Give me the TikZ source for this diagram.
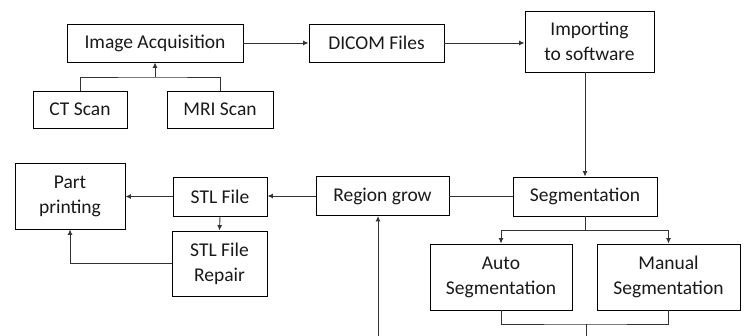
\documentclass[tikz,border=0pt]{standalone}
\usepackage{fontspec}
\setmainfont{Carlito}
\usetikzlibrary{arrows.meta}
\begin{document}
\begin{tikzpicture}[x=1pt,y=-1pt,
  box/.style={draw=black, line width=0.9pt, inner sep=0pt, align=center,
    font=\fontsize{19.5}{25}\selectfont, text=black!90},
  conn/.style={draw=black!80, line width=0.9pt},
  arr/.style={conn, -{Latex[length=5.5pt,width=5pt]}}]
\useasboundingbox (0,0) rectangle (747,336);
\node[box, minimum width=176pt, minimum height=38pt] (acq) at (155,43) {Image Acquisition};
\node[box, minimum width=94pt, minimum height=37pt] (ct) at (80,109.5) {CT Scan};
\node[box, minimum width=106pt, minimum height=37pt] (mri) at (220,109.5) {MRI Scan};
\node[box, minimum width=135pt, minimum height=38pt] (dicom) at (376.5,43) {DICOM Files};
\node[box, minimum width=129pt, minimum height=61pt] (imp) at (589.5,41.5) {Importing\\to software};
\node[box, minimum width=144pt, minimum height=39pt] (seg) at (585,196.5) {Segmentation};
\node[box, minimum width=133pt, minimum height=39pt] (rg) at (382.5,196) {Region grow};
\node[box, minimum width=94pt, minimum height=39pt] (stl) at (220,196.5) {STL File};
\node[box, minimum width=110pt, minimum height=66pt] (pp) at (70,196) {Part\\printing};
\node[box, minimum width=95pt, minimum height=65pt] (rep) at (219.5,263.5) {STL File\\Repair};
\node[box, minimum width=142pt, minimum height=66pt] (auto) at (501,277) {Auto\\Segmentation};
\node[box, minimum width=143pt, minimum height=66pt] (man) at (668.5,277) {Manual\\Segmentation};
\coordinate (j1) at (155,77);
\coordinate (j2) at (585,230);
\coordinate (j3) at (586,324);
\coordinate (b1) at (586,336);
\coordinate (b2) at (378,336);
% scans to acquisition
\draw[conn] (ct.north) |- (j1) -| (mri.north);
\draw[arr] (j1) -- (acq.south);
\draw[arr] (acq.east) -- (dicom.west);
\draw[arr] (dicom.east) -- (dicom.east -| imp.west);
\draw[arr] (seg.north |- imp.south) -- (seg.north);
\draw[conn] (rg.east) -- (rg.east -| seg.west);
\draw[arr] (rg.west) -- (rg.west -| stl.east);
\draw[arr] (stl.west) -- (stl.west -| pp.east);
\draw[arr] (stl.south) -- (rep.north);
\draw[arr] (rep.west) -| (pp.south);
\draw[conn] (seg.south) -- (j2);
\draw[arr] (j2) -| (auto.north);
\draw[arr] (j2) -| (man.north);
\draw[conn] (auto.south) |- (j3) -| (man.south);
\draw[conn] (j3) -- (b1);
\draw[arr] (b2) -- (b2 |- rg.south);
\end{tikzpicture}
\end{document}
